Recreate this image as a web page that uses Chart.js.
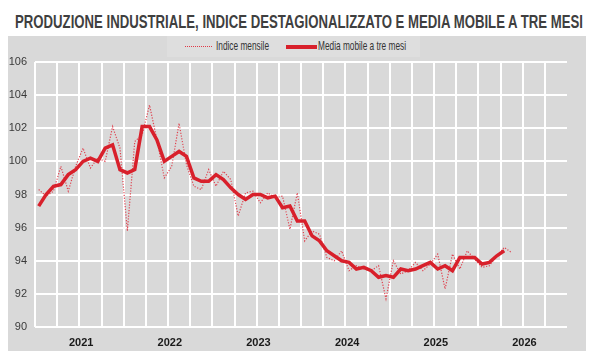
<!DOCTYPE html>
<html lang="it">
<head>
  <meta charset="UTF-8" />
  <title>Produzione industriale</title>
  <script src="https://cdn.jsdelivr.net/npm/chart.js"></script>
  <style>
    body { margin: 0; width: 600px; height: 360px; background: #fff; position: relative; overflow: hidden;
           font-family: 'Liberation Sans', Arial, sans-serif; }
    .fit { position: absolute; white-space: nowrap; transform-origin: 0 0; }
    #title { left: 15px; top: 12px; font-weight: bold; font-size: 18px; color: #3f3f3f; }
    #panel { position: absolute; left: 8px; top: 36px; width: 578px; height: 315px; background: #d9d9d9; }
    #legend { position: absolute; left: 167px; top: 36px; width: 253px; height: 21px; background: #dedede; }
    .lg { font-size: 13px; color: #333; top: 2px; }
    .dot { position: absolute; top: 10px; height: 0; border-top: 1px dotted #e03a48; }
    .thick { position: absolute; top: 9px; height: 4px; background: #d8202b; }
    canvas { position: absolute; left: 0; top: 0; }
  </style>
</head>
<body>
<div id="title" class="fit" data-w="568">PRODUZIONE INDUSTRIALE, INDICE DESTAGIONALIZZATO E MEDIA MOBILE A TRE MESI</div>
<div id="panel"></div>
<div id="legend">
  <span class="dot" style="left:18px;width:27px"></span>
  <span class="lg fit" style="left:49px" data-w="53">Indice mensile</span>
  <span class="thick" style="left:119px;width:31px"></span>
  <span class="lg fit" style="left:151px" data-w="88">Media mobile a tre mesi</span>
</div>
<canvas id="chart" width="600" height="360"></canvas>

<script>
  // x axis: one category per month, Jan 2021 - Dec 2026
  const years = [2021, 2022, 2023, 2024, 2025, 2026];
  const months = [];
  years.forEach(y => { for (let m = 1; m <= 12; m++) months.push(y + '-' + m); });

  // monthly index (seasonally adjusted), from Jan 2021
  const indiceMensile = [
    98.3, 97.9, 98.2, 99.7, 98.2, 99.7, 100.8, 99.6, 100.2, 100.0, 102.1, 100.8,
    95.8, 101.2, 101.6, 103.4, 101.3, 99.0, 99.7, 102.3, 99.8, 98.5, 98.3, 99.5,
    98.5, 99.4, 98.9, 96.7, 98.1, 98.2, 97.5, 98.1, 97.8, 97.9, 95.9, 98.1,
    95.2, 95.8, 95.6, 94.2, 94.0, 94.6, 93.4, 93.7, 93.5, 93.4, 93.7, 91.7,
    94.0, 93.2, 93.4, 93.9, 93.4, 93.8, 94.4, 92.3, 94.4, 93.5, 94.6, 94.1,
    93.6, 93.7, 94.3, 94.8, 94.5
  ];

  // three-month moving average
  const mediaMobile = [
    97.3, 98.0, 98.5, 98.6, 99.2, 99.5, 100.0, 100.2, 100.0, 100.8, 101.0, 99.5,
    99.3, 99.5, 102.1, 102.1, 101.3, 100.0, 100.3, 100.6, 100.3, 99.0, 98.8, 98.8,
    99.2, 98.9, 98.4, 98.0, 97.7, 98.0, 98.0, 97.8, 97.9, 97.2, 97.3, 96.4,
    96.4, 95.5, 95.2, 94.6, 94.3, 94.0, 93.9, 93.5, 93.6, 93.4, 93.0, 93.1,
    93.0, 93.5, 93.4, 93.5, 93.7, 93.9, 93.5, 93.7, 93.4, 94.2, 94.2, 94.2,
    93.8, 93.9, 94.3, 94.6
  ];

  const yTicks = [90, 92, 94, 96, 98, 100, 102, 104, 106];

  const red = '#d8202b';
  const sans = "'Liberation Sans', Arial, sans-serif";

  // squeeze html text to the narrow widths of the original
  document.querySelectorAll('.fit').forEach(el => {
    const w = el.getBoundingClientRect().width;
    el.style.transform = 'scaleX(' + (el.dataset.w / w) + ')';
  });

  new Chart(document.getElementById('chart'), {
    type: 'line',
    data: {
      labels: months,
      datasets: [
        {
          label: 'Indice mensile',
          data: indiceMensile,
          borderColor: 'rgba(224,50,64,0.9)',
          borderWidth: 1.2,
          borderDash: [1.2, 1.6],
          pointRadius: 0,
          order: 2
        },
        {
          label: 'Media mobile a tre mesi',
          data: mediaMobile,
          borderColor: red,
          borderWidth: 3.5,
          pointRadius: 0,
          order: 1
        }
      ]
    },
    options: {
      responsive: false,
      animation: false,
      layout: { padding: { left: 0, top: 62, right: 33, bottom: 0 } },
      plugins: { legend: { display: false }, tooltip: { enabled: false } },
      scales: {
        x: {
          offset: true,
          border: { display: false },
          grid: {
            offset: true,
            drawTicks: false,
            lineWidth: 2,
            color: ctx => (ctx.index % 3 === 0 ? '#ffffff' : 'rgba(0,0,0,0)')
          },
          ticks: {
            autoSkip: false,
            maxRotation: 0,
            padding: 9,
            labelOffset: 5.5,
            color: '#1a1a1a',
            font: { family: sans, size: 11, weight: 'bold' },
            callback: (v, i) => (i % 12 === 5 ? String(years[Math.floor(i / 12)]) : '')
          },
          afterFit: s => { s.height = 33; s.paddingLeft = 0; s.paddingRight = 0; }
        },
        y: {
          min: 90,
          max: 106,
          border: { display: false },
          grid: { color: '#ffffff', lineWidth: 2, drawTicks: false },
          afterBuildTicks: s => { s.ticks = yTicks.map(v => ({ value: v })); },
          ticks: {
            padding: 8,
            color: '#3a3a3a',
            font: { family: sans, size: 11 }
          },
          afterFit: s => { s.width = 35; s.paddingTop = 0; s.paddingBottom = 0; }
        }
      }
    }
  });
</script>
</body>
</html>
